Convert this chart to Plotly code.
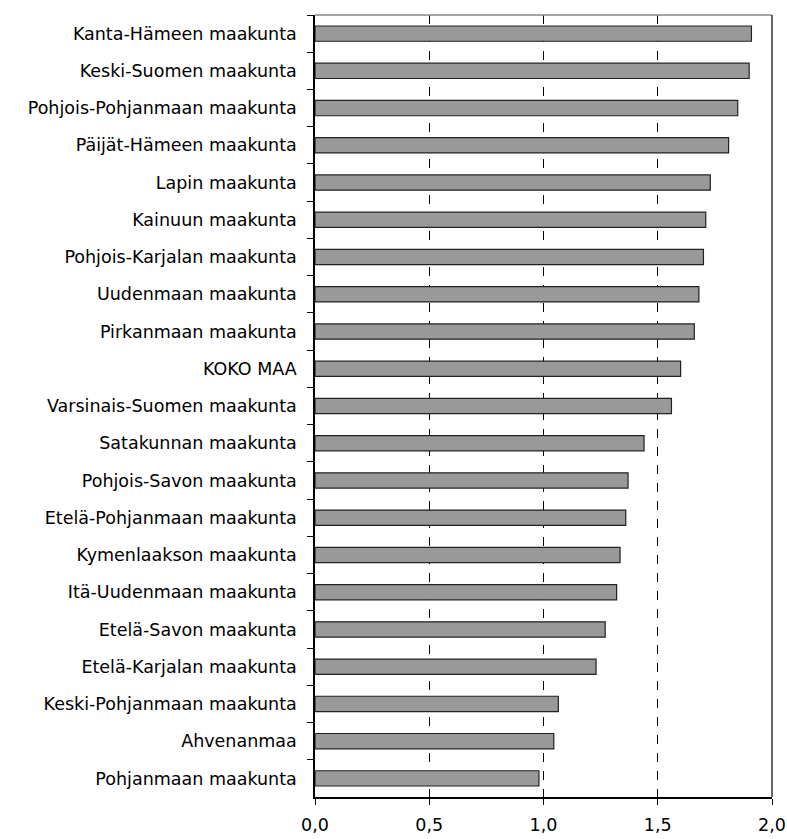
import plotly.graph_objects as go

regions = [
    "Kanta-Hämeen maakunta",
    "Keski-Suomen maakunta",
    "Pohjois-Pohjanmaan maakunta",
    "Päijät-Hämeen maakunta",
    "Lapin maakunta",
    "Kainuun maakunta",
    "Pohjois-Karjalan maakunta",
    "Uudenmaan maakunta",
    "Pirkanmaan maakunta",
    "KOKO MAA",
    "Varsinais-Suomen maakunta",
    "Satakunnan maakunta",
    "Pohjois-Savon maakunta",
    "Etelä-Pohjanmaan maakunta",
    "Kymenlaakson maakunta",
    "Itä-Uudenmaan maakunta",
    "Etelä-Savon maakunta",
    "Etelä-Karjalan maakunta",
    "Keski-Pohjanmaan maakunta",
    "Ahvenanmaa",
    "Pohjanmaan maakunta",
]
values = [1.91, 1.90, 1.85, 1.81, 1.73, 1.71, 1.70, 1.68, 1.66, 1.60, 1.56,
          1.44, 1.37, 1.36, 1.335, 1.32, 1.27, 1.23, 1.065, 1.045, 0.98]
x_ticks = [0, 0.5, 1.0, 1.5, 2.0]

fig = go.Figure(go.Bar(
    x=values, y=regions, orientation="h",
    marker=dict(color="#999999", line=dict(color="#222222", width=1.2)),
    width=0.41,
))

font = dict(family="DejaVu Sans, Arial, sans-serif", size=17.5, color="#000000")

fig.update_layout(
    width=787, height=839,
    margin=dict(l=315, r=15, t=15, b=42),
    paper_bgcolor="white", plot_bgcolor="white",
    separators=",.",
    showlegend=False,
    font=font,
    xaxis=dict(
        range=[0, 2.0], tickvals=x_ticks, tickformat=".1f",
        showgrid=True, gridcolor="#000000", griddash="dash", gridwidth=1,
        showline=True, linecolor="#000000", linewidth=1.5,
        ticks="outside", ticklen=6, tickcolor="#000000",
        ticklabelstandoff=5, automargin=False,
        zeroline=False, tickfont=font,
    ),
    yaxis=dict(
        autorange="reversed", type="category",
        showgrid=False, zeroline=False,
        showline=True, linecolor="#000000", linewidth=1.5,
        ticks="outside", tickson="boundaries", ticklen=6, tickcolor="#000000",
        ticklabelstandoff=13, automargin=False,
        tickfont=font,
    ),
    shapes=[
        dict(type="line", xref="paper", yref="paper", x0=0, x1=1, y0=1, y1=1,
             line=dict(color="#888888", width=1.5)),
        dict(type="line", xref="paper", yref="paper", x0=1, x1=1, y0=0, y1=1,
             line=dict(color="#333333", width=1.5)),
    ],
)

fig.write_html(
    "out.html",
    config={"displayModeBar": False},
    post_script="document.body.style.margin='0';document.body.style.overflow='hidden';",
)
